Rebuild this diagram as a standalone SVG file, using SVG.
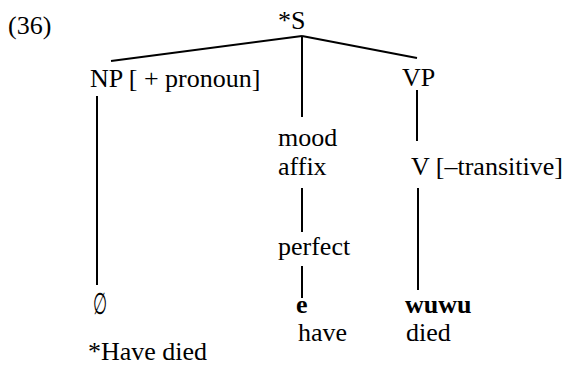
<svg xmlns="http://www.w3.org/2000/svg" width="569" height="376" viewBox="0 0 569 376">
  <style>
    .edge { stroke: #000; stroke-width: 2; fill: none; }
  </style>
  <rect width="569" height="376" fill="#fff"/>

  <text x="8" y="34" font-family="Liberation Serif" font-size="26">(36)</text>

  <g id="connectors">
    <line class="edge" x1="302" y1="36" x2="111" y2="61"/>
    <line class="edge" x1="302" y1="36" x2="417" y2="58"/>
    <line class="edge" x1="302" y1="36" x2="302" y2="117"/>
    <line class="edge" x1="97" y1="96" x2="97" y2="285"/>
    <line class="edge" x1="417" y1="90" x2="417" y2="141"/>
    <line class="edge" x1="302" y1="188" x2="302" y2="232"/>
    <line class="edge" x1="302" y1="266" x2="302" y2="298"/>
    <line class="edge" x1="418" y1="188" x2="418" y2="290"/>
  </g>

  <g id="s"><text x="278" y="29" font-family="Liberation Serif" font-size="26">*S</text></g>
  <g id="np"><text x="90" y="87" font-family="Liberation Serif" font-size="26">NP [ + pronoun]</text></g>
  <g id="vp"><text x="402" y="86" font-family="Liberation Serif" font-size="26">VP</text></g>
  <g id="mood">
    <text x="278" y="146" font-family="Liberation Serif" font-size="26">mood</text>
    <text x="278" y="175" font-family="Liberation Serif" font-size="26">affix</text>
  </g>
  <g id="v"><text x="411" y="175" font-family="Liberation Serif" font-size="26">V [–transitive]</text></g>
  <g id="perfect"><text x="278" y="255" font-family="Liberation Serif" font-size="26">perfect</text></g>
  <!-- null element: narrow slashed zero -->
  <g id="null"><text transform="translate(93 314) scale(0.62 1.15)" font-family="Liberation Serif" font-size="26">∅</text></g>
  <g id="e">
    <text x="296" y="313" font-family="Liberation Serif" font-size="26" font-weight="bold">e</text>
    <text x="298" y="341" font-family="Liberation Serif" font-size="26">have</text>
  </g>
  <g id="wuwu">
    <text x="405" y="313" font-family="Liberation Serif" font-size="26" font-weight="bold">wuwu</text>
    <text x="406" y="341" font-family="Liberation Serif" font-size="26">died</text>
  </g>

  <text x="88" y="360" font-family="Liberation Serif" font-size="26">*Have died</text>
</svg>
